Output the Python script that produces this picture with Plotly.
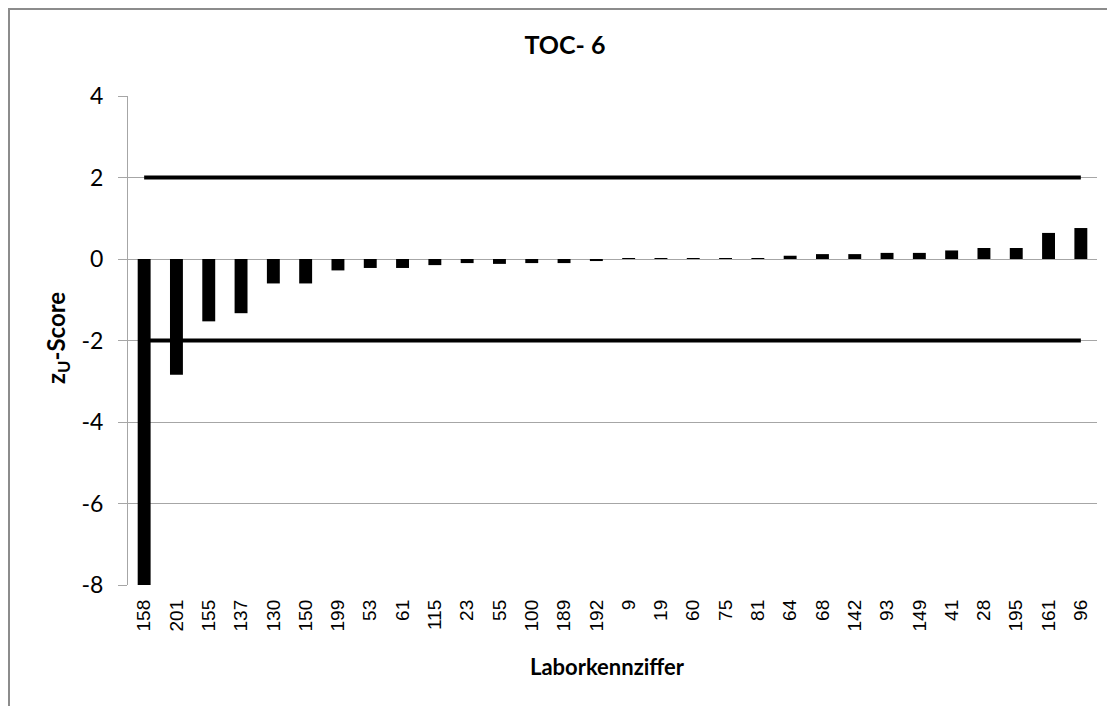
import plotly.graph_objects as go

# Laborkennziffer and z_U scores
labs = ["158", "201", "155", "137", "130", "150", "199", "53", "61", "115",
        "23", "55", "100", "189", "192", "9", "19", "60", "75", "81",
        "64", "68", "142", "93", "149", "41", "28", "195", "161", "96"]
zu = [-8.0, -2.84, -1.53, -1.33, -0.6, -0.6, -0.28, -0.22, -0.22, -0.15,
      -0.1, -0.12, -0.1, -0.1, -0.05, 0.01, 0.01, 0.02, 0.02, 0.02,
      0.08, 0.12, 0.12, 0.15, 0.15, 0.21, 0.27, 0.27, 0.64, 0.76]
upper = [2] * len(labs)
lower = [-2] * len(labs)
yticks = [4, 2, 0, -2, -4, -6, -8]
ytext = ["4", "2", "0", "-2", "-4", "-6", "-8"]

GRID = "#a6a6a6"
# page has an 8px body margin, so size the figure to fit
FW, FH = 1107, 698
L, T, W, H = 120, 88, 969, 489

fig = go.Figure()
fig.add_trace(go.Bar(x=labs, y=zu, marker=dict(color="black", line=dict(width=0)),
                     showlegend=False))
fig.add_trace(go.Scatter(x=labs, y=upper, mode="lines",
                         line=dict(color="black", width=4), showlegend=False))
fig.add_trace(go.Scatter(x=labs, y=lower, mode="lines",
                         line=dict(color="black", width=4), showlegend=False))

fig.update_layout(
    width=FW, height=FH,
    margin=dict(l=L, r=FW - L - W, t=T, b=FH - T - H),
    plot_bgcolor="white", paper_bgcolor="white",
    bargap=0.6,
    title=dict(text="<b>TOC- 6</b>", x=557 / FW, xanchor="center",
               y=1 - 37 / FH, yanchor="middle",
               font=dict(family="Lato", size=25, color="black")),
    xaxis=dict(type="category", categoryorder="array", categoryarray=labs,
               range=[-0.5, len(labs) - 0.5],
               showgrid=False, showline=False, ticks="", tickangle=-90,
               ticklabelstandoff=10,
               tickfont=dict(family="Liberation Sans", size=19, color="black")),
    # zero axis with tick marks between the categories
    xaxis2=dict(type="linear", range=[-0.5, len(labs) - 0.5],
                tick0=-0.5, dtick=1,
                overlaying="x", anchor="free", position=8 / 12, side="bottom",
                showgrid=False, zeroline=False,
                showline=True, linecolor="#8c8c8c", linewidth=1,
                ticks="outside", ticklen=6, tickwidth=1,
                tickcolor="#8c8c8c", showticklabels=False),
    yaxis=dict(range=[-8, 4], tickvals=yticks, ticktext=ytext,
               showgrid=True, gridcolor=GRID, gridwidth=1, zeroline=False,
               showline=True, linecolor=GRID, ticks="outside", ticklen=9,
               tickcolor=GRID, ticklabelstandoff=10,
               tickfont=dict(family="Lato", size=23, color="black")),
    annotations=[
        dict(text="<b>Laborkennziffer</b>", xref="paper", yref="paper",
             x=(599 - L) / W, y=-(658 - T - H) / H, xanchor="center",
             yanchor="middle", showarrow=False,
             font=dict(family="Lato", size=22, color="black")),
        dict(text="<b>z<sub>U</sub>-Score</b>", xref="paper", yref="paper",
             x=-(L - 49) / W, y=1 - (330 - T) / H, xanchor="center",
             yanchor="middle", textangle=-90, showarrow=False,
             font=dict(family="Lato", size=24, color="black")),
    ],
    shapes=[dict(type="rect", xref="paper", yref="paper",
                 x0=-(L - 1) / W, x1=1.2, y0=-0.5, y1=1 + (T - 1) / H,
                 line=dict(color="#8c8c8c", width=2), layer="below")],
)

fig.write_html("out.html")
